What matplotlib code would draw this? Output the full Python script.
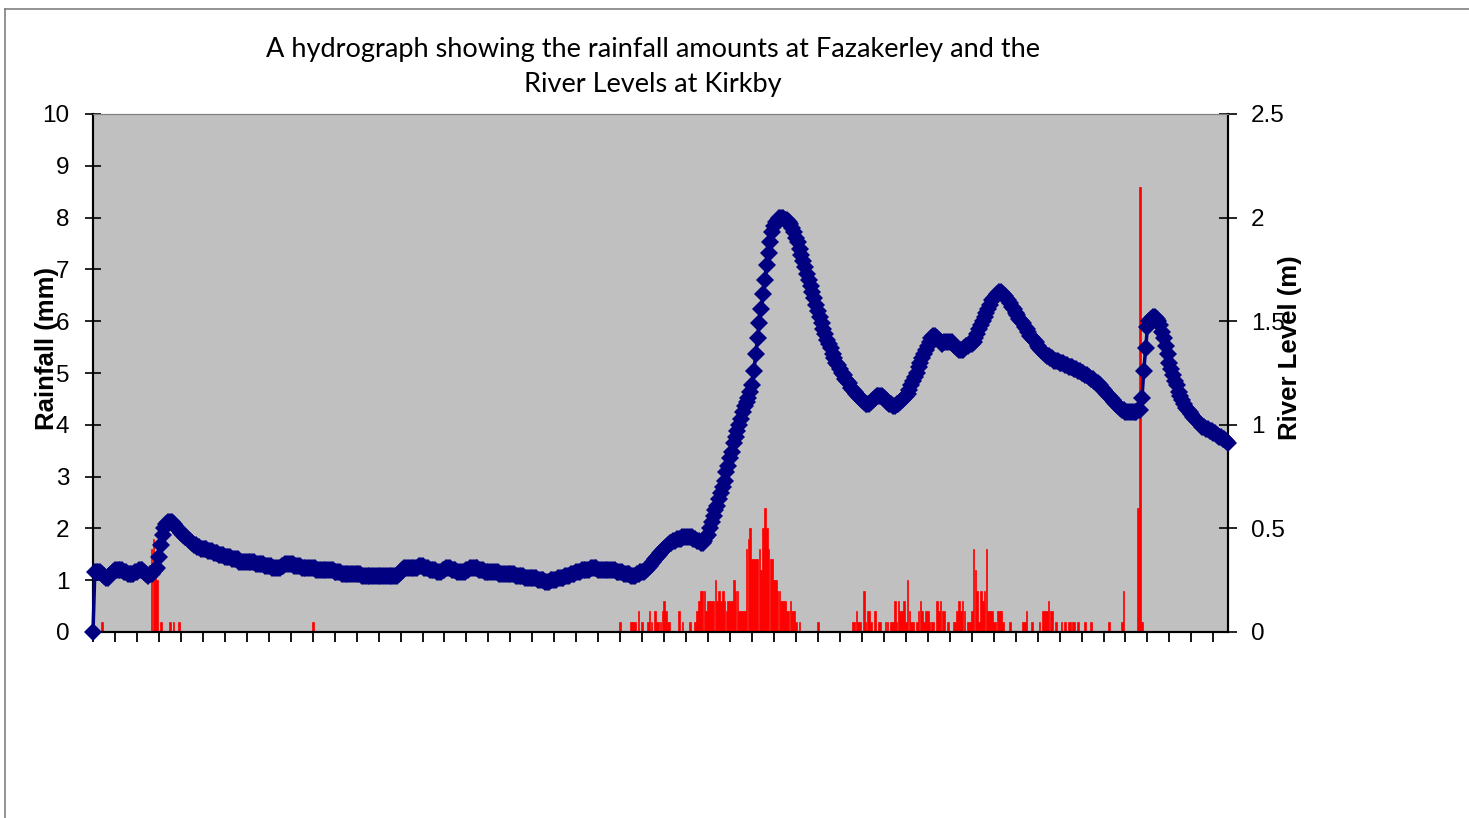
import numpy as np
import matplotlib
matplotlib.use('Agg')
import matplotlib.pyplot as plt
from matplotlib.lines import Line2D

# river level at Kirkby (m), one reading per category
level = [
    0.00, 0.29, 0.29, 0.29, 0.29, 0.28, 0.27, 0.26, 0.26, 0.27, 0.28, 0.29,
    0.30, 0.30, 0.30, 0.30, 0.30, 0.29, 0.29, 0.28, 0.28, 0.28, 0.28, 0.29,
    0.29, 0.30, 0.30, 0.30, 0.29, 0.28, 0.27, 0.28, 0.28, 0.29, 0.30, 0.31,
    0.36, 0.42, 0.47, 0.50, 0.52, 0.53, 0.53, 0.53, 0.52, 0.51, 0.50, 0.49,
    0.48, 0.47, 0.46, 0.46, 0.45, 0.44, 0.43, 0.42, 0.42, 0.41, 0.41, 0.40,
    0.40, 0.40, 0.40, 0.39, 0.39, 0.39, 0.38, 0.38, 0.38, 0.37, 0.37, 0.37,
    0.36, 0.36, 0.36, 0.36, 0.35, 0.35, 0.35, 0.35, 0.34, 0.34, 0.34, 0.34,
    0.34, 0.34, 0.34, 0.34, 0.34, 0.33, 0.33, 0.33, 0.33, 0.33, 0.32, 0.32,
    0.32, 0.32, 0.31, 0.31, 0.31, 0.31, 0.31, 0.32, 0.32, 0.33, 0.33, 0.33,
    0.33, 0.33, 0.32, 0.32, 0.32, 0.32, 0.31, 0.31, 0.31, 0.31, 0.31, 0.31,
    0.31, 0.31, 0.30, 0.30, 0.30, 0.30, 0.30, 0.30, 0.30, 0.30, 0.30, 0.30,
    0.29, 0.29, 0.29, 0.29, 0.28, 0.28, 0.28, 0.28, 0.28, 0.28, 0.28, 0.28,
    0.28, 0.28, 0.28, 0.27, 0.27, 0.27, 0.27, 0.27, 0.27, 0.27, 0.27, 0.27,
    0.27, 0.27, 0.27, 0.27, 0.27, 0.27, 0.27, 0.27, 0.27, 0.27, 0.27, 0.28,
    0.29, 0.30, 0.31, 0.31, 0.31, 0.31, 0.31, 0.31, 0.31, 0.31, 0.32, 0.32,
    0.32, 0.31, 0.31, 0.31, 0.30, 0.30, 0.30, 0.30, 0.29, 0.29, 0.29, 0.30,
    0.30, 0.31, 0.31, 0.31, 0.30, 0.30, 0.30, 0.29, 0.29, 0.29, 0.29, 0.29,
    0.30, 0.30, 0.31, 0.31, 0.31, 0.31, 0.31, 0.30, 0.30, 0.30, 0.29, 0.29,
    0.29, 0.29, 0.29, 0.29, 0.29, 0.29, 0.28, 0.28, 0.28, 0.28, 0.28, 0.28,
    0.28, 0.28, 0.28, 0.27, 0.27, 0.27, 0.27, 0.27, 0.26, 0.26, 0.26, 0.26,
    0.26, 0.26, 0.26, 0.25, 0.25, 0.25, 0.25, 0.24, 0.24, 0.24, 0.25, 0.25,
    0.25, 0.25, 0.26, 0.26, 0.26, 0.26, 0.27, 0.27, 0.27, 0.28, 0.28, 0.28,
    0.29, 0.29, 0.29, 0.30, 0.30, 0.30, 0.30, 0.30, 0.31, 0.31, 0.31, 0.31,
    0.30, 0.30, 0.30, 0.30, 0.30, 0.30, 0.30, 0.30, 0.30, 0.30, 0.29, 0.29,
    0.29, 0.29, 0.28, 0.28, 0.28, 0.28, 0.27, 0.27, 0.27, 0.28, 0.28, 0.29,
    0.29, 0.29, 0.30, 0.31, 0.32, 0.33, 0.34, 0.35, 0.36, 0.37, 0.38, 0.39,
    0.40, 0.41, 0.42, 0.43, 0.43, 0.44, 0.44, 0.45, 0.45, 0.45, 0.46, 0.46,
    0.46, 0.46, 0.46, 0.46, 0.45, 0.45, 0.44, 0.44, 0.43, 0.43, 0.44, 0.46,
    0.47, 0.50, 0.53, 0.56, 0.59, 0.61, 0.64, 0.67, 0.70, 0.73, 0.77, 0.80,
    0.84, 0.87, 0.91, 0.94, 0.97, 1.00, 1.03, 1.06, 1.09, 1.11, 1.13, 1.16,
    1.19, 1.26, 1.34, 1.42, 1.49, 1.56, 1.63, 1.70, 1.77, 1.83, 1.88, 1.93,
    1.96, 1.98, 1.99, 2.00, 2.00, 2.00, 1.99, 1.99, 1.98, 1.97, 1.95, 1.93,
    1.90, 1.88, 1.85, 1.82, 1.79, 1.76, 1.73, 1.70, 1.67, 1.64, 1.61, 1.58,
    1.55, 1.52, 1.49, 1.46, 1.44, 1.41, 1.39, 1.37, 1.34, 1.32, 1.30, 1.29,
    1.27, 1.25, 1.24, 1.22, 1.21, 1.20, 1.18, 1.17, 1.16, 1.15, 1.14, 1.13,
    1.12, 1.11, 1.10, 1.10, 1.10, 1.11, 1.12, 1.13, 1.14, 1.14, 1.14, 1.14,
    1.13, 1.12, 1.11, 1.10, 1.10, 1.09, 1.09, 1.10, 1.10, 1.11, 1.12, 1.13,
    1.14, 1.15, 1.17, 1.19, 1.21, 1.23, 1.25, 1.28, 1.30, 1.32, 1.34, 1.36,
    1.38, 1.40, 1.42, 1.43, 1.43, 1.42, 1.41, 1.40, 1.39, 1.40, 1.40, 1.40,
    1.40, 1.40, 1.39, 1.38, 1.37, 1.36, 1.36, 1.36, 1.37, 1.38, 1.38, 1.39,
    1.39, 1.40, 1.42, 1.44, 1.46, 1.48, 1.50, 1.52, 1.54, 1.56, 1.58, 1.60,
    1.61, 1.62, 1.63, 1.64, 1.64, 1.63, 1.62, 1.61, 1.60, 1.59, 1.57, 1.56,
    1.54, 1.53, 1.51, 1.50, 1.49, 1.47, 1.46, 1.45, 1.43, 1.42, 1.41, 1.40,
    1.38, 1.37, 1.36, 1.35, 1.34, 1.33, 1.33, 1.32, 1.32, 1.31, 1.31, 1.31,
    1.30, 1.30, 1.30, 1.29, 1.29, 1.28, 1.28, 1.28, 1.27, 1.27, 1.26, 1.26,
    1.25, 1.25, 1.24, 1.24, 1.23, 1.22, 1.22, 1.21, 1.20, 1.20, 1.19, 1.18,
    1.17, 1.16, 1.15, 1.14, 1.13, 1.12, 1.11, 1.10, 1.09, 1.08, 1.07, 1.07,
    1.06, 1.06, 1.06, 1.06, 1.06, 1.06, 1.06, 1.07, 1.07, 1.13, 1.26, 1.37,
    1.47, 1.50, 1.51, 1.52, 1.52, 1.51, 1.50, 1.48, 1.45, 1.42, 1.38, 1.34,
    1.30, 1.27, 1.24, 1.21, 1.19, 1.16, 1.14, 1.12, 1.10, 1.08, 1.07, 1.06,
    1.05, 1.04, 1.03, 1.02, 1.01, 1.00, 0.99, 0.99, 0.98, 0.98, 0.97, 0.97,
    0.96, 0.96, 0.95, 0.94, 0.94, 0.93, 0.93, 0.92, 0.91,
]

# rainfall at Fazakerley (mm): reading number and amount, all other readings are 0
rain_idx = [5, 32, 33, 34, 35, 37, 42, 44, 47, 120,
            288, 294, 295, 296, 298, 300, 303, 304, 305, 307, 308, 309, 310,
            311, 312, 313, 314, 315, 320, 322, 326, 329, 330, 331, 332, 333,
            334, 335, 336, 337, 338, 339, 340, 341, 342, 343, 344, 345, 346,
            347, 348, 349, 350, 351, 352, 353, 354, 355, 356, 357, 358, 359,
            360, 361, 362, 363, 364, 365, 366, 367, 368, 369, 370, 371, 372,
            373, 374, 375, 376, 377, 378, 379, 380, 381, 382, 383, 384, 386,
            396,
            415, 416, 417, 418, 419, 421, 422, 423, 424, 425, 427, 429, 430,
            433, 434, 436, 437, 438, 439, 440, 441, 442, 443, 444, 445, 446,
            447, 448, 450, 451, 452, 453, 454, 455, 456, 457, 458, 459, 461,
            462, 463, 464, 465, 467, 470, 471, 472, 473, 474, 475, 476, 478,
            479, 480, 481, 482, 483, 484, 485, 486, 487, 488, 489, 490, 491,
            492, 493, 494, 495, 496, 497, 501, 508, 509, 510, 513, 517, 519,
            520, 521, 522, 523, 524, 526, 529, 531, 533, 534, 535, 536, 538,
            542, 545, 555, 562, 563, 571, 572, 573]
rain_mm = [0.2, 1.6, 1.8, 1.2, 1.0, 0.2, 0.2, 0.2, 0.2, 0.2,
           0.2, 0.2, 0.2, 0.2, 0.4, 0.2, 0.2, 0.4, 0.2, 0.4, 0.2, 0.2, 0.2,
           0.4, 0.6, 0.4, 0.2, 0.2, 0.4, 0.2, 0.2, 0.2, 0.4, 0.6, 0.8, 0.8,
           0.8, 0.4, 0.6, 0.6, 0.6, 0.6, 1.0, 0.6, 0.8, 0.6, 0.8, 0.6, 0.4,
           0.6, 0.6, 0.6, 1.0, 0.8, 0.8, 0.4, 0.4, 0.4, 0.4, 1.6, 1.8, 2.0,
           1.4, 1.4, 1.4, 1.4, 1.6, 1.2, 2.0, 2.4, 2.0, 1.6, 1.4, 1.4, 1.0,
           1.0, 0.8, 0.8, 0.6, 0.6, 0.6, 0.4, 0.4, 0.6, 0.4, 0.4, 0.2, 0.2,
           0.2,
           0.2, 0.2, 0.4, 0.2, 0.2, 0.8, 0.2, 0.4, 0.4, 0.2, 0.4, 0.2, 0.2,
           0.2, 0.2, 0.2, 0.2, 0.6, 0.2, 0.6, 0.4, 0.4, 0.6, 0.2, 1.0, 0.4,
           0.2, 0.2, 0.2, 0.4, 0.6, 0.4, 0.2, 0.4, 0.4, 0.2, 0.2, 0.2, 0.6,
           0.4, 0.6, 0.4, 0.4, 0.2, 0.2, 0.2, 0.4, 0.6, 0.4, 0.6, 0.4, 0.2,
           0.2, 0.4, 1.6, 1.2, 0.8, 0.2, 0.8, 0.6, 0.8, 1.6, 0.4, 0.4, 0.4,
           0.2, 0.2, 0.4, 0.4, 0.4, 0.2, 0.2, 0.2, 0.2, 0.4, 0.2, 0.2, 0.4,
           0.4, 0.4, 0.6, 0.4, 0.4, 0.2, 0.2, 0.2, 0.2, 0.2, 0.2, 0.2, 0.2,
           0.2, 0.2, 0.2, 0.2, 0.8, 2.4, 8.6, 0.2]

left_ticks = [0, 1, 2, 3, 4, 5, 6, 7, 8, 9, 10]
right_ticks = [0, 0.5, 1, 1.5, 2, 2.5]
right_labels = ['0', '0.5', '1', '1.5', '2', '2.5']

n = len(level)
x = np.arange(n)
rain = np.zeros(n)
for i, mm in zip(rain_idx, rain_mm):
    if i < n:
        rain[i] = mm

fig = plt.figure(figsize=(14.69, 8.18), dpi=100)
W, H = 1469.0, 818.0
ax = fig.add_axes([93 / W, 1 - 632 / H, (1228 - 93) / W, (632 - 114) / H])
ax.set_facecolor('#C0C0C0')

# rainfall columns on the left axis
ax.bar(x, rain, width=0.9, color='#FF0000', edgecolor='#FF0000', linewidth=0.5, zorder=2)
ax.set_ylim(0, 10)
ax.set_xlim(0, n - 1)
ax.set_yticks(left_ticks)
ax.set_yticklabels([str(t) for t in left_ticks])
ax.set_xticks(np.arange(0, n, 12))
ax.set_xticklabels([])
ax.tick_params(axis='y', direction='inout', length=12, width=1.2, pad=11,
               labelsize=17.5, colors='black')
ax.tick_params(axis='x', direction='out', length=7.5, width=1.3)
for lab in ax.get_yticklabels():
    lab.set_fontfamily('Liberation Sans')

# river level line on the right axis
ax2 = ax.twinx()
ax2.plot(x, level, color='#000080', lw=2.5, marker='D', ms=9.5,
         markeredgewidth=0, clip_on=False, zorder=3)
ax2.set_ylim(0, 2.5)
ax2.set_yticks(right_ticks)
ax2.set_yticklabels(right_labels)
ax2.tick_params(axis='y', direction='inout', length=13, width=1.2, pad=10,
                labelsize=17.5)
for lab in ax2.get_yticklabels():
    lab.set_fontfamily('Liberation Sans')

for a in (ax, ax2):
    a.spines['top'].set_color('#808080')
    a.spines['left'].set_linewidth(1.5)
    a.spines['right'].set_linewidth(1.5)
    a.spines['bottom'].set_linewidth(1.5)

# axis titles
fig.text(47 / W, 1 - 348 / H, 'Rainfall (mm)', rotation=90, ha='center', va='center',
         fontsize=18.5, fontweight='bold', family='Liberation Sans')
fig.text(1290 / W, 1 - 348 / H, 'River Level (m)', rotation=90, ha='center', va='center',
         fontsize=18.5, fontweight='bold', family='Liberation Sans')

# chart title
fig.text(653 / W, 1 - 67 / H,
         'A hydrograph showing the rainfall amounts at Fazakerley and the\nRiver Levels at Kirkby',
         ha='center', va='center', fontsize=19.5, family='Lato', linespacing=1.5)

# chart area border (top and left edge)
fig.add_artist(Line2D([5 / W, 1], [1 - 9 / H, 1 - 9 / H], color='#808080', lw=1.2))
fig.add_artist(Line2D([5 / W, 5 / W], [0, 1 - 9 / H], color='#808080', lw=1.2))

fig.savefig('out.png', dpi=100)
